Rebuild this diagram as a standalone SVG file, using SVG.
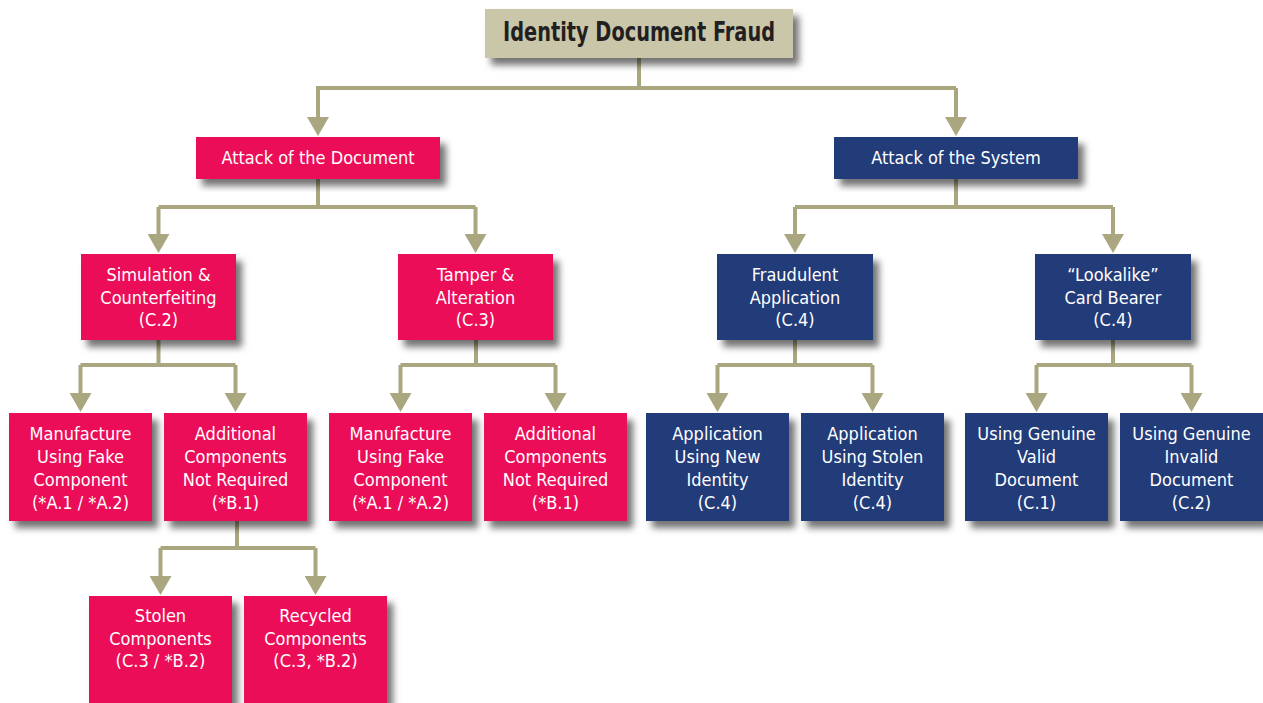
<svg xmlns="http://www.w3.org/2000/svg" width="1263" height="703" viewBox="0 0 1263 703">
<style>
  .pink { fill: #ec1059; }
  .navy { fill: #233a79; }
  .title { fill: #cac6aa; }
  .box { filter: url(#shadow); }
  .lbl { font-family: "Liberation Sans Narrow", "DejaVu Sans Condensed", "Arial Narrow", sans-serif; font-stretch: condensed; font-size: 18px; fill: #ffffff; text-anchor: middle; }
  .ttl { font-family: "Liberation Sans Narrow", "DejaVu Sans Condensed", "Arial Narrow", sans-serif; font-stretch: condensed; font-weight: bold; font-size: 27px; fill: #231f20; text-anchor: middle; }
  .conn { fill: none; stroke: #a9a680; stroke-width: 4; }
</style>
<defs>
  <filter id="shadow" x="-10%" y="-10%" width="130%" height="140%">
    <feDropShadow dx="6" dy="7" stdDeviation="3.5" flood-color="#000000" flood-opacity="0.55"/>
  </filter>
  <marker id="arrow" markerUnits="userSpaceOnUse" viewBox="0 0 19 22" refX="9" refY="11" markerWidth="19" markerHeight="22" orient="auto">
    <path d="M0,0 L19,11 L0,22 Z" fill="#a9a680"/>
  </marker>
</defs>
<rect width="1263" height="703" fill="#ffffff"/>

<g id="connectors">
  <path class="conn" d="M639,58 V88 M316,88 H956"/>
  <path class="conn" d="M318,88 V126" marker-end="url(#arrow)"/>
  <path class="conn" d="M956,88 V126" marker-end="url(#arrow)"/>

  <path class="conn" d="M318,179 V207 M158.5,207 H475.5"/>
  <path class="conn" d="M158.5,207 V243" marker-end="url(#arrow)"/>
  <path class="conn" d="M475.5,207 V243" marker-end="url(#arrow)"/>

  <path class="conn" d="M956,179 V207 M795,207 H1113"/>
  <path class="conn" d="M795,207 V243" marker-end="url(#arrow)"/>
  <path class="conn" d="M1113,207 V243" marker-end="url(#arrow)"/>

  <path class="conn" d="M158.5,340 V365 M80.5,365 H235.5"/>
  <path class="conn" d="M80.5,365 V402" marker-end="url(#arrow)"/>
  <path class="conn" d="M235.5,365 V402" marker-end="url(#arrow)"/>

  <path class="conn" d="M476,340 V365 M400.5,365 H555.5"/>
  <path class="conn" d="M400.5,365 V402" marker-end="url(#arrow)"/>
  <path class="conn" d="M555.5,365 V402" marker-end="url(#arrow)"/>

  <path class="conn" d="M795,340 V365 M717.5,365 H872.5"/>
  <path class="conn" d="M717.5,365 V402" marker-end="url(#arrow)"/>
  <path class="conn" d="M872.5,365 V402" marker-end="url(#arrow)"/>

  <path class="conn" d="M1113,340 V365 M1036.5,365 H1191.5"/>
  <path class="conn" d="M1036.5,365 V402" marker-end="url(#arrow)"/>
  <path class="conn" d="M1191.5,365 V402" marker-end="url(#arrow)"/>

  <path class="conn" d="M237,521 V548 M160.5,548 H315.5"/>
  <path class="conn" d="M160.5,548 V585" marker-end="url(#arrow)"/>
  <path class="conn" d="M315.5,548 V585" marker-end="url(#arrow)"/>
</g>

<g id="identity-document-fraud">
  <rect class="box title" x="485" y="9" width="308" height="49"/>
  <text class="ttl" x="639" y="41" textLength="272" lengthAdjust="spacingAndGlyphs">Identity Document Fraud</text>
</g>

<g id="attack-document">
  <rect class="box pink" x="196" y="137" width="244" height="42"/>
  <text class="lbl" x="318" y="164">Attack of the Document</text>
</g>
<g id="attack-system">
  <rect class="box navy" x="834" y="137" width="244" height="42"/>
  <text class="lbl" x="956" y="164">Attack of the System</text>
</g>

<g id="simulation">
  <rect class="box pink" x="81" y="254" width="155" height="86"/>
  <text class="lbl" x="158.5" y="281">Simulation &amp;</text>
  <text class="lbl" x="158.5" y="303.5">Counterfeiting</text>
  <text class="lbl" x="158.5" y="326">(C.2)</text>
</g>
<g id="tamper">
  <rect class="box pink" x="398" y="254" width="155" height="86"/>
  <text class="lbl" x="475.5" y="281">Tamper &amp;</text>
  <text class="lbl" x="475.5" y="303.5">Alteration</text>
  <text class="lbl" x="475.5" y="326">(C.3)</text>
</g>
<g id="fraudulent-application">
  <rect class="box navy" x="717" y="254" width="156" height="86"/>
  <text class="lbl" x="795" y="281">Fraudulent</text>
  <text class="lbl" x="795" y="303.5">Application</text>
  <text class="lbl" x="795" y="326">(C.4)</text>
</g>
<g id="lookalike">
  <rect class="box navy" x="1035" y="254" width="156" height="86"/>
  <text class="lbl" x="1113" y="281">“Lookalike”</text>
  <text class="lbl" x="1113" y="303.5">Card Bearer</text>
  <text class="lbl" x="1113" y="326">(C.4)</text>
</g>

<g id="manufacture-1">
  <rect class="box pink" x="9" y="413" width="143" height="108"/>
  <text class="lbl" x="80.5" y="440">Manufacture</text>
  <text class="lbl" x="80.5" y="463">Using Fake</text>
  <text class="lbl" x="80.5" y="486">Component</text>
  <text class="lbl" x="80.5" y="509">(*A.1 / *A.2)</text>
</g>
<g id="additional-1">
  <rect class="box pink" x="164" y="413" width="143" height="108"/>
  <text class="lbl" x="235.5" y="440">Additional</text>
  <text class="lbl" x="235.5" y="463">Components</text>
  <text class="lbl" x="235.5" y="486">Not Required</text>
  <text class="lbl" x="235.5" y="509">(*B.1)</text>
</g>
<g id="manufacture-2">
  <rect class="box pink" x="329" y="413" width="143" height="108"/>
  <text class="lbl" x="400.5" y="440">Manufacture</text>
  <text class="lbl" x="400.5" y="463">Using Fake</text>
  <text class="lbl" x="400.5" y="486">Component</text>
  <text class="lbl" x="400.5" y="509">(*A.1 / *A.2)</text>
</g>
<g id="additional-2">
  <rect class="box pink" x="484" y="413" width="143" height="108"/>
  <text class="lbl" x="555.5" y="440">Additional</text>
  <text class="lbl" x="555.5" y="463">Components</text>
  <text class="lbl" x="555.5" y="486">Not Required</text>
  <text class="lbl" x="555.5" y="509">(*B.1)</text>
</g>
<g id="application-new">
  <rect class="box navy" x="646" y="413" width="143" height="108"/>
  <text class="lbl" x="717.5" y="440">Application</text>
  <text class="lbl" x="717.5" y="463">Using New</text>
  <text class="lbl" x="717.5" y="486">Identity</text>
  <text class="lbl" x="717.5" y="509">(C.4)</text>
</g>
<g id="application-stolen">
  <rect class="box navy" x="801" y="413" width="143" height="108"/>
  <text class="lbl" x="872.5" y="440">Application</text>
  <text class="lbl" x="872.5" y="463">Using Stolen</text>
  <text class="lbl" x="872.5" y="486">Identity</text>
  <text class="lbl" x="872.5" y="509">(C.4)</text>
</g>
<g id="genuine-valid">
  <rect class="box navy" x="965" y="413" width="143" height="108"/>
  <text class="lbl" x="1036.5" y="440">Using Genuine</text>
  <text class="lbl" x="1036.5" y="463">Valid</text>
  <text class="lbl" x="1036.5" y="486">Document</text>
  <text class="lbl" x="1036.5" y="509">(C.1)</text>
</g>
<g id="genuine-invalid">
  <rect class="box navy" x="1120" y="413" width="143" height="108"/>
  <text class="lbl" x="1191.5" y="440">Using Genuine</text>
  <text class="lbl" x="1191.5" y="463">Invalid</text>
  <text class="lbl" x="1191.5" y="486">Document</text>
  <text class="lbl" x="1191.5" y="509">(C.2)</text>
</g>

<g id="stolen-components">
  <rect class="box pink" x="89" y="596" width="143" height="120"/>
  <text class="lbl" x="160.5" y="622">Stolen</text>
  <text class="lbl" x="160.5" y="644.5">Components</text>
  <text class="lbl" x="160.5" y="667">(C.3 / *B.2)</text>
</g>
<g id="recycled-components">
  <rect class="box pink" x="244" y="596" width="143" height="120"/>
  <text class="lbl" x="315.5" y="622">Recycled</text>
  <text class="lbl" x="315.5" y="644.5">Components</text>
  <text class="lbl" x="315.5" y="667">(C.3, *B.2)</text>
</g>
</svg>
